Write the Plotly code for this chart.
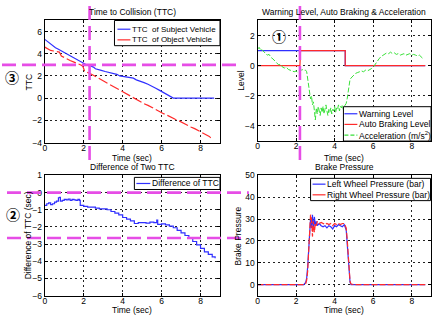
import plotly.graph_objects as go

W, H = 436, 317

# ---------------- data ----------------
# Panel 1: Time to Collision (TTC)
ttc_subj_t = [0, 0.1, 0.25, 0.4, 0.55, 0.7, 0.85, 1.0, 1.2, 1.4,
              1.6, 1.8, 2.0, 2.2, 2.35, 2.5, 2.6, 2.75, 2.9, 3.1,
              3.3, 3.5, 3.7, 3.85, 4.0, 4.2, 4.4, 4.55, 4.7, 4.9,
              5.1, 5.3, 5.5, 5.7, 5.9, 6.1, 6.3, 6.5, 6.6, 7.5, 8.7]
ttc_subj = [5.3, 5.15, 4.95, 4.75, 4.55, 4.4, 4.25, 4.1, 3.9, 3.7,
            3.5, 3.3, 3.1, 2.95, 2.9, 2.8, 2.65, 2.55, 2.5, 2.4,
            2.3, 2.25, 2.15, 2.0, 1.95, 1.95, 1.85, 1.8, 1.65, 1.55,
            1.4, 1.25, 1.1, 0.9, 0.7, 0.5, 0.35, 0.1, 0.0, 0.0, 0.0]
ttc_obj_t = [0, 0.15, 0.3, 0.45, 0.6, 0.75, 0.85, 0.95, 1.1, 1.3,
             1.5, 1.7, 1.9, 1.97, 2.05, 2.3, 2.5, 2.7, 2.9, 3.1,
             3.3, 3.5, 3.7, 3.9, 4.1, 4.3, 4.5, 4.7, 4.9, 5.1,
             5.3, 5.5, 5.7, 5.9, 6.1, 6.3, 6.5, 6.7, 6.9, 7.1,
             7.3, 7.5, 7.7, 7.9, 8.1, 8.3, 8.45, 8.6]
ttc_obj = [4.6, 4.45, 4.3, 4.25, 4.2, 4.15, 3.8, 3.7, 3.55, 3.4,
           3.25, 3.1, 2.95, 2.8, 2.4, 2.25, 2.05, 1.85, 1.65, 1.45,
           1.3, 1.1, 0.9, 0.7, 0.5, 0.25, 0.05, -0.1, -0.3, -0.5,
           -0.65, -0.85, -1.0, -1.2, -1.4, -1.55, -1.75, -1.9, -2.05, -2.25,
           -2.4, -2.6, -2.75, -2.95, -3.15, -3.35, -3.45, -3.7]

# Panel 2: Warning level, auto braking & acceleration
warn_t = [0, 4.55, 4.55, 8.7]
warn = [1, 1, 0, 0]
brake_lvl_t = [0, 2.2, 2.23, 4.55, 4.55, 8.7]
brake_lvl = [0, 0, 1, 1, 0, 0]
acc_t = [0.0, 0.05, 0.1, 0.15, 0.2, 0.3, 0.4, 0.5, 0.6, 0.7,
         0.8, 0.9, 1.0, 1.1, 1.2, 1.3, 1.4, 1.5, 1.6, 1.7,
         1.8, 1.9, 2.0, 2.1, 2.2, 2.3, 2.4, 2.5, 2.55, 2.6,
         2.65, 2.7, 2.75, 2.8, 2.85, 2.9, 2.95, 3.0, 3.05, 3.1,
         3.15, 3.2, 3.25, 3.3, 3.35, 3.4, 3.45, 3.5, 3.55, 3.6,
         3.65, 3.7, 3.75, 3.8, 3.85, 3.9, 3.95, 4.0, 4.05, 4.1,
         4.15, 4.2, 4.25, 4.3, 4.35, 4.4, 4.45, 4.5, 4.55, 4.6,
         4.65, 4.7, 4.75, 4.8, 4.9, 5.0, 5.1, 5.2, 5.3, 5.4,
         5.5, 5.6, 5.7, 5.8, 5.9, 6.0, 6.1, 6.2, 6.3, 6.4,
         6.5, 6.6, 6.7, 6.8, 6.9, 7.0, 7.1, 7.2, 7.3, 7.4,
         7.5, 7.6, 7.7, 7.8, 7.9, 8.0, 8.1, 8.2, 8.3, 8.4,
         8.5, 8.6]
acc = [1.25, 1.15, 1.2, 1.05, 1.1, 0.95, 0.85, 0.7, 0.75, 0.55,
       0.45, 0.3, 0.2, 0.05, 0.1, -0.1, -0.15, -0.1, -0.25, -0.3,
       -0.3, -0.4, -0.35, -0.45, -0.4, -0.25, -0.3, -0.3, -0.4, -0.8,
       -1.4, -1.9, -2.2, -2.0, -2.6, -2.4, -3.1, -3.6, -2.8, -3.2,
       -2.7, -3.0, -3.3, -2.8, -3.1, -2.7, -3.2, -2.9, -2.6, -3.0,
       -3.3, -2.9, -3.1, -2.8, -3.2, -2.9, -3.0, -2.7, -3.1, -2.8,
       -2.9, -2.6, -3.0, -2.7, -2.8, -2.6, -2.9, -2.7, -2.6, -2.5,
       -2.2, -1.7, -1.2, -0.9, -0.75, -0.6, -0.5, -0.45, -0.4, -0.35,
       -0.4, -0.3, -0.35, -0.3, -0.2, -0.1, 0.1, 0.25, 0.45, 0.6,
       0.7, 0.75, 0.85, 0.8, 0.9, 0.8, 0.85, 0.75, 0.8, 0.7,
       0.75, 0.8, 0.7, 0.75, 0.8, 0.7, 0.75, 0.7, 0.65, 0.7,
       0.55, 0.45]

# Panel 3: Difference of two TTC
diff_t = [0, 0.1, 0.2, 0.3, 0.4, 0.5, 0.6, 0.7, 0.75, 0.8,
          0.9, 1.0, 1.1, 1.2, 1.3, 1.4, 1.5, 1.6, 1.7, 1.78,
          1.82, 2.0, 2.2, 2.4, 2.6, 2.8, 3.0, 3.2, 3.4, 3.6,
          3.8, 4.0, 4.2, 4.4, 4.6, 4.8, 5.0, 5.2, 5.4, 5.6,
          5.75, 5.8, 6.0, 6.2, 6.4, 6.6, 6.8, 7.0, 7.2, 7.4,
          7.6, 7.8, 8.0, 8.2, 8.4, 8.6, 8.75]
diff = [-0.75, -0.65, -0.6, -0.7, -0.65, -0.55, -0.5, -0.3, -0.28, -0.5,
        -0.45, -0.4, -0.42, -0.38, -0.45, -0.4, -0.42, -0.45, -0.4, -0.45,
        -0.75, -0.8, -0.85, -0.85, -0.9, -0.95, -0.95, -1.0, -1.1, -1.2,
        -1.3, -1.45, -1.55, -1.65, -1.8, -1.75, -1.75, -1.78, -1.72, -1.75,
        -1.6, -1.85, -1.82, -1.88, -1.95, -2.05, -2.2, -2.35, -2.5, -2.65,
        -2.85, -3.05, -3.25, -3.45, -3.6, -3.75, -3.82]

# Panel 4: Brake pressure
p_t = [0, 2.4, 2.5, 2.55, 2.6, 2.65, 2.7, 2.75, 2.8, 2.85,
       2.9, 2.95, 3.0, 3.05, 3.1, 3.2, 3.3, 3.4, 3.5, 3.6,
       3.7, 3.8, 3.9, 4.0, 4.1, 4.2, 4.3, 4.4, 4.5, 4.55,
       4.6, 4.65, 4.7, 4.75, 4.8, 4.85, 5.0, 6.0, 7.0, 8.0, 8.7]
p_left = [0, 0, 1, 3, 8, 16, 24, 30, 26, 32,
          25, 31, 27, 29, 27, 28, 27, 26.5, 27, 26,
          27, 26.5, 25.5, 27, 26.5, 27.5, 27, 26.5, 27.5, 26.5,
          25, 19, 12, 5, 1, 0, 0, 0, 0, 0, 0]
p_right = [0, 0, 0.5, 2, 6, 14, 22, 32, 30, 22,
           29, 24, 28, 27, 29, 28, 28.5, 28, 27.5, 28,
           27.5, 28, 27, 28, 27.5, 28, 27.5, 28, 28, 27,
           26, 21, 13, 6, 1.5, 0.3, 0, 0, 0, 0, 0]

# highlight markers (pink dashed)
mark_t_ttc = 2.3
mark_ttc_level = 3
mark_t_brake = 2.2
diff_hi = 0
diff_lo = -2.65

# ticks
x_ticks = [0, 2, 4, 6, 8]
y1_ticks = [-4, -2, 0, 2, 4, 6]
y2_ticks = [-4, -2, 0, 2]
y3_ticks = [-6, -5, -4, -3, -2, -1, 0, 1]
y4_ticks = [0, 10, 20, 30, 40, 50]

titles = ["Time to Collision (TTC)", "Warning Level, Auto Braking & Acceleration",
          "Difference of Two TTC", "Brake Pressure"]
ytitles = ["TTC", "Level", "Difference of TTC (sec)", "Brake Pressure"]
xtitle = "Time (sec)"

# ---------------- style ----------------
BLUE = "#2f2fff"
RED = "#ff2a2a"
GREEN = "#39e039"
PINK = "#e64de6"
FONT = "Liberation Sans"


def px(x):
    return x / W


def py(y):
    return 1 - y / H


# panel boxes in pixels: (left, top, right, bottom)
boxes = [(43, 16, 219, 142), (256.7, 16, 431, 140.5),
         (43, 176, 219, 300), (256.7, 176, 431, 300)]

fig = go.Figure()

fig.add_trace(go.Scatter(x=ttc_subj_t, y=ttc_subj, mode="lines", name="TTC  of Subject Vehicle",
                         line=dict(color=BLUE, width=1.2), xaxis="x", yaxis="y"))
fig.add_trace(go.Scatter(x=ttc_obj_t, y=ttc_obj, mode="lines", name="TTC  of Object Vehicle",
                         line=dict(color=RED, width=1.2, dash="10px,3px"), xaxis="x", yaxis="y"))

fig.add_trace(go.Scatter(x=warn_t, y=warn, mode="lines", name="Warning Level",
                         line=dict(color=BLUE, width=1.2), xaxis="x2", yaxis="y2"))
fig.add_trace(go.Scatter(x=brake_lvl_t, y=brake_lvl, mode="lines", name="Auto Braking Level",
                         line=dict(color=RED, width=1.2), xaxis="x2", yaxis="y2"))
fig.add_trace(go.Scatter(x=acc_t, y=acc, mode="lines", name="Acceleration (m/s<sup>2</sup>)",
                         line=dict(color=GREEN, width=1, dash="5px,2px"), xaxis="x2", yaxis="y2"))

fig.add_trace(go.Scatter(x=diff_t, y=diff, mode="lines", name="Difference of TTC",
                         line=dict(color=BLUE, width=1.2, shape="hv"), xaxis="x3", yaxis="y3"))

fig.add_trace(go.Scatter(x=p_t, y=p_left, mode="lines", name="Left Wheel Pressure (bar)",
                         line=dict(color=BLUE, width=1.2), xaxis="x4", yaxis="y4"))
fig.add_trace(go.Scatter(x=p_t, y=p_right, mode="lines", name="Right Wheel Pressure (bar)",
                         line=dict(color=RED, width=1.2, dash="6px,2px"), xaxis="x4", yaxis="y4"))

fig.update_traces(showlegend=False)

axis_common = dict(showline=True, linecolor="black", linewidth=1, mirror="ticks",
                   ticks="inside", ticklen=3, tickcolor="black", showgrid=True,
                   gridcolor="#222", griddash="2px,3px", gridwidth=1, zeroline=False,
                   tickfont=dict(family=FONT, size=8.5, color="black"))

yranges = [(-4, 7), (-5, 3), (-6, 1), (-5, 50)]
yticks = [y1_ticks, y2_ticks, y3_ticks, y4_ticks]
layout_axes = {}
for i, (b, yr, yt) in enumerate(zip(boxes, yranges, yticks)):
    n = "" if i == 0 else str(i + 1)
    layout_axes["xaxis" + n] = dict(axis_common, domain=[px(b[0]), px(b[2])], range=[0, 9],
                                    tickvals=x_ticks, anchor="y" + n, ticklabelstandoff=-3)
    layout_axes["yaxis" + n] = dict(axis_common, domain=[py(b[3]), py(b[1])], range=list(yr),
                                    tickvals=yt, anchor="x" + n)
fig.update_layout(**layout_axes)

ann = []
shapes = []
P = dict(xref="paper", yref="paper", showarrow=False)
# subplot titles & axis titles
title_y = [7.5, 7.5, 167, 167]
xt_y = [157.5, 157.5, 315, 315]
yt_x = [27, 240, 27, 238]
for b, t, ty, yt, xty, ytx in zip(boxes, titles, title_y, ytitles, xt_y, yt_x):
    cx = (b[0] + b[2]) / 2
    cy = (b[1] + b[3]) / 2
    ann.append(dict(P, x=px(cx), y=py(ty), text=t, xanchor="center", yanchor="middle",
                    font=dict(family=FONT, size=8.5, color="black")))
    ann.append(dict(P, x=px(cx), y=py(xty), text=xtitle, xanchor="center", yanchor="middle",
                    font=dict(family=FONT, size=8.5, color="black")))
    ann.append(dict(P, x=px(ytx), y=py(cy), text=yt, xanchor="center", yanchor="middle",
                    textangle=-90, font=dict(family=FONT, size=8.5, color="black")))


# manual legends
def legend(box, items, ys, sx0, sx1, tx, size):
    shapes.append(dict(type="rect", xref="paper", yref="paper", x0=px(box[0]), x1=px(box[2]),
                       y0=py(box[3]), y1=py(box[1]), line=dict(color="black", width=1),
                       fillcolor="white", layer="above"))
    for (label, color, dash), yy in zip(items, ys):
        shapes.append(dict(type="line", xref="paper", yref="paper", x0=px(sx0), x1=px(sx1),
                           y0=py(yy), y1=py(yy), line=dict(color=color, width=1.2, dash=dash),
                           layer="above"))
        ann.append(dict(P, x=px(tx), y=py(yy), text=label, xanchor="left",
                        yanchor="middle", borderpad=0,
                        font=dict(family=FONT, size=size, color="black")))


legend((113, 16, 219, 42), [("TTC  of Subject Vehicle", BLUE, "solid"),
                            ("TTC  of Object Vehicle", RED, "solid")],
       [25, 36], 116, 129, 130, 8)
legend((343, 105, 431, 140.5), [("Warning Level", BLUE, "solid"),
                                 ("Auto Braking Level", RED, "solid"),
                                 ("Acceleration (m/s<sup>2</sup>)", GREEN, "4px,2px")],
       [112.3, 123.3, 134.3], 344, 357, 357.5, 8.5)
legend((133, 178, 219, 190.5), [("Difference of TTC", BLUE, "solid")],
       [184.3], 135, 149, 149.5, 8.5)
legend((310, 179, 430.5, 202), [("Left Wheel Pressure (bar)", BLUE, "solid"),
                                ("Right Wheel Pressure (bar)", RED, "solid")],
       [185, 196], 312, 325, 325, 8.5)

# pink dashed highlight lines
pink = dict(color=PINK, width=2.6, dash="14px,6px")
shapes.append(dict(type="line", xref="x", yref="paper", x0=mark_t_ttc, x1=mark_t_ttc,
                   y0=py(160), y1=1, line=pink, layer="above"))
shapes.append(dict(type="line", xref="paper", yref="y", x0=0, x1=px(238),
                   y0=mark_ttc_level, y1=mark_ttc_level, line=pink, layer="above"))
shapes.append(dict(type="line", xref="x2", yref="paper", x0=mark_t_brake, x1=mark_t_brake,
                   y0=py(160), y1=1, line=pink, layer="above"))
shapes.append(dict(type="line", xref="paper", yref="y3", x0=px(5), x1=px(248),
                   y0=diff_hi, y1=diff_hi, line=pink, layer="above"))
shapes.append(dict(type="line", xref="paper", yref="y3", x0=px(5), x1=px(241),
                   y0=diff_lo, y1=diff_lo, line=pink, layer="above"))

# circled step numbers
for txt, (cx, cy) in [("③", (10, 74)), ("①", (278, 32)), ("②", (11, 216))]:
    ann.append(dict(P, x=px(cx), y=py(cy), text="<b>" + txt + "</b>",
                    xanchor="center", yanchor="middle",
                    font=dict(family="Noto Sans CJK JP", size=14, color="black")))

fig.update_layout(width=W, height=H, margin=dict(l=0, r=0, t=0, b=0),
                  paper_bgcolor="white", plot_bgcolor="white", showlegend=False,
                  annotations=ann, shapes=shapes,
                  font=dict(family=FONT, size=8.5, color="black"))

fig.write_html("out.html")
